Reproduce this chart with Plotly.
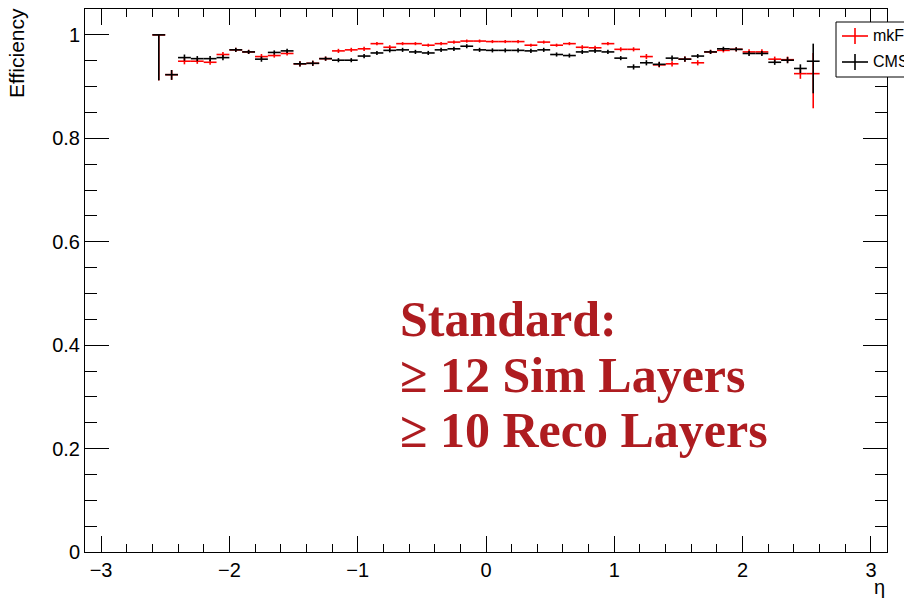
import plotly.graph_objects as go

# ---------------- data ----------------
eta = [-2.55, -2.45, -2.35, -2.25, -2.15, -2.05, -1.95, -1.85, -1.75, -1.65,
       -1.55, -1.45, -1.35, -1.25, -1.15, -1.05, -0.95, -0.85, -0.75, -0.65,
       -0.55, -0.45, -0.35, -0.25, -0.15, -0.05, 0.05, 0.15, 0.25, 0.35,
       0.45, 0.55, 0.65, 0.75, 0.85, 0.95, 1.05, 1.15, 1.25, 1.35,
       1.45, 1.55, 1.65, 1.75, 1.85, 1.95, 2.05, 2.15, 2.25, 2.35,
       2.45, 2.55]
bin_half_width = [0.05] * len(eta)

eff_cmssw = [1.000, 0.923, 0.956, 0.954, 0.954, 0.956, 0.971, 0.967, 0.953, 0.966,
             0.969, 0.944, 0.945, 0.954, 0.951, 0.951, 0.959, 0.965, 0.970, 0.971,
             0.967, 0.965, 0.971, 0.973, 0.978, 0.971, 0.970, 0.970, 0.970, 0.969,
             0.971, 0.962, 0.960, 0.967, 0.969, 0.967, 0.955, 0.938, 0.946, 0.943,
             0.955, 0.953, 0.959, 0.967, 0.973, 0.972, 0.964, 0.964, 0.947, 0.951,
             0.935, 0.949]
err_up_cmssw = [0.000, 0.009, 0.006, 0.005, 0.005, 0.005, 0.004, 0.004, 0.005, 0.004,
                0.004, 0.005, 0.005, 0.004, 0.004, 0.004, 0.004, 0.004, 0.004, 0.004,
                0.004, 0.004, 0.004, 0.004, 0.004, 0.004, 0.004, 0.004, 0.004, 0.004,
                0.004, 0.004, 0.004, 0.004, 0.004, 0.004, 0.004, 0.005, 0.005, 0.005,
                0.005, 0.005, 0.004, 0.004, 0.004, 0.004, 0.005, 0.005, 0.005, 0.006,
                0.008, 0.034]
err_dn_cmssw = [0.088, 0.010, 0.006, 0.005, 0.005, 0.005, 0.004, 0.004, 0.005, 0.004,
                0.004, 0.005, 0.005, 0.004, 0.004, 0.004, 0.004, 0.004, 0.004, 0.004,
                0.004, 0.004, 0.004, 0.004, 0.004, 0.004, 0.004, 0.004, 0.004, 0.004,
                0.004, 0.004, 0.004, 0.004, 0.004, 0.004, 0.004, 0.005, 0.005, 0.005,
                0.005, 0.005, 0.004, 0.004, 0.004, 0.004, 0.005, 0.005, 0.005, 0.006,
                0.009, 0.062]

eff_mkfit = [1.000, 0.923, 0.949, 0.949, 0.947, 0.962, 0.971, 0.967, 0.958, 0.960,
             0.964, 0.944, 0.945, 0.954, 0.969, 0.971, 0.973, 0.983, 0.976, 0.983,
             0.983, 0.980, 0.983, 0.986, 0.988, 0.988, 0.987, 0.987, 0.987, 0.980,
             0.986, 0.980, 0.983, 0.976, 0.975, 0.983, 0.972, 0.972, 0.958, 0.942,
             0.944, 0.953, 0.946, 0.967, 0.970, 0.972, 0.967, 0.967, 0.953, 0.952,
             0.925, 0.925]
err_up_mkfit = [0.000, 0.009, 0.006, 0.005, 0.005, 0.005, 0.004, 0.004, 0.005, 0.004,
                0.004, 0.005, 0.005, 0.004, 0.004, 0.004, 0.004, 0.003, 0.004, 0.003,
                0.003, 0.003, 0.003, 0.003, 0.003, 0.003, 0.003, 0.003, 0.003, 0.003,
                0.003, 0.003, 0.003, 0.004, 0.004, 0.003, 0.004, 0.004, 0.005, 0.005,
                0.005, 0.005, 0.005, 0.004, 0.004, 0.004, 0.005, 0.005, 0.005, 0.006,
                0.009, 0.040]
err_dn_mkfit = [0.088, 0.010, 0.006, 0.005, 0.005, 0.005, 0.004, 0.004, 0.005, 0.004,
                0.004, 0.005, 0.005, 0.004, 0.004, 0.004, 0.004, 0.003, 0.004, 0.003,
                0.003, 0.003, 0.003, 0.003, 0.003, 0.003, 0.003, 0.003, 0.003, 0.003,
                0.003, 0.003, 0.003, 0.004, 0.004, 0.003, 0.004, 0.004, 0.005, 0.005,
                0.005, 0.005, 0.005, 0.004, 0.004, 0.004, 0.005, 0.005, 0.005, 0.006,
                0.010, 0.067]

x_tickvals = [-3, -2, -1, 0, 1, 2, 3]
x_ticktext = ["\u22123", "\u22122", "\u22121", "0", "1", "2", "3"]
y_tickvals = [0, 0.2, 0.4, 0.6, 0.8, 1.0]
y_ticktext = ["0", "0.2", "0.4", "0.6", "0.8", "1"]

series_names = ["mkFit", "CMSSW"]
series_colors = ["#ff0000", "#000000"]
label_lines = ["Standard:", "\u2265 12 Sim Layers", "\u2265 10 Reco Layers"]

# ---------------- layout geometry (pixels) ----------------
W, H = 904, 600
ML, MR, MT, MB = 85, 17, 9, 48
PW, PH = W - ML - MR, H - MT - MB


def px(xp):
    return (xp - ML) / PW


def py(yp):
    return (H - MB - yp) / PH


LW = 1.6
SANS = "Liberation Sans, Arial, Helvetica, sans-serif"
fig = go.Figure()

for name, color, eff, eu, ed in [
    (series_names[0], series_colors[0], eff_mkfit, err_up_mkfit, err_dn_mkfit),
    (series_names[1], series_colors[1], eff_cmssw, err_up_cmssw, err_dn_cmssw),
]:
    fig.add_trace(go.Scatter(
        x=eta, y=eff, mode="markers", name=name,
        marker=dict(size=0.1, color=color, opacity=0),
        error_x=dict(type="data", array=bin_half_width, symmetric=True,
                     color=color, thickness=LW, width=0),
        error_y=dict(type="data", array=eu, arrayminus=ed, symmetric=False,
                     color=color, thickness=LW, width=0),
        showlegend=False, hoverinfo="skip",
    ))

tickfont = dict(family=SANS, size=20, color="black")

fig.update_xaxes(
    range=[-3.125, 3.125], tickvals=x_tickvals, ticktext=x_ticktext,
    ticks="inside", ticklen=16, tickwidth=1, tickcolor="black",
    minor=dict(dtick=0.2, tick0=0, ticks="inside", ticklen=8, tickwidth=1,
               tickcolor="black", showgrid=False),
    showline=True, linecolor="black", linewidth=1, mirror="ticks",
    showgrid=False, zeroline=False, tickfont=tickfont,
)
fig.update_yaxes(
    range=[0, 1.05], tickvals=y_tickvals, ticktext=y_ticktext,
    ticks="inside", ticklen=24, tickwidth=1, tickcolor="black",
    minor=dict(dtick=0.05, tick0=0, ticks="inside", ticklen=12, tickwidth=1,
               tickcolor="black", showgrid=False),
    showline=True, linecolor="black", linewidth=1, mirror="ticks",
    showgrid=False, zeroline=False, tickfont=tickfont,
)

shapes = []
annotations = []

# manual ROOT-style legend (partially outside the canvas, as in the reference)
shapes.append(dict(type="rect", xref="paper", yref="paper",
                   x0=px(836), x1=px(960), y0=py(77), y1=py(22),
                   line=dict(color="black", width=1), fillcolor="white", layer="above"))
for i, (name, color) in enumerate(zip(series_names, series_colors)):
    yc = 36 + 26 * i
    shapes.append(dict(type="line", xref="paper", yref="paper",
                       x0=px(842), x1=px(868), y0=py(yc), y1=py(yc),
                       line=dict(color=color, width=LW), layer="above"))
    shapes.append(dict(type="line", xref="paper", yref="paper",
                       x0=px(855), x1=px(855), y0=py(yc - 8), y1=py(yc + 8),
                       line=dict(color=color, width=LW), layer="above"))
    annotations.append(dict(text=name, xref="paper", yref="paper",
                            x=px(871), y=py(yc), xanchor="left", yanchor="middle",
                            showarrow=False,
                            font=dict(family=SANS, size=16, color="black")))

# axis titles (ROOT style, at the axis ends)
annotations.append(dict(text="Efficiency", xref="paper", yref="paper",
                        x=px(17), y=py(6), xanchor="center", yanchor="top",
                        textangle=-90, showarrow=False,
                        font=dict(family=SANS, size=21, color="black")))
annotations.append(dict(text="\u03b7", xref="paper", yref="paper",
                        x=1.0, y=py(587), xanchor="right", yanchor="middle",
                        showarrow=False,
                        font=dict(family=SANS, size=20, color="black")))

# selection label
label_centers = [319, 375, 430]
for txt, yc in zip(label_lines, label_centers):
    annotations.append(dict(text="<b>" + txt + "</b>", xref="paper", yref="paper",
                            x=px(398), y=py(yc), xanchor="left", yanchor="middle",
                            showarrow=False,
                            font=dict(family="Liberation Serif, Times New Roman, serif",
                                      size=50, color="#ae1c20")))

fig.update_layout(
    width=W, height=H,
    margin=dict(l=ML, r=MR, t=MT, b=MB, pad=0, autoexpand=False),
    paper_bgcolor="white", plot_bgcolor="white",
    shapes=shapes, annotations=annotations, showlegend=False,
)

fig.write_html(
    "out.html",
    config={"displayModeBar": False, "staticPlot": True},
    post_script="document.body.style.margin='0';document.body.style.padding='0';"
                "document.body.style.overflow='hidden';",
)
